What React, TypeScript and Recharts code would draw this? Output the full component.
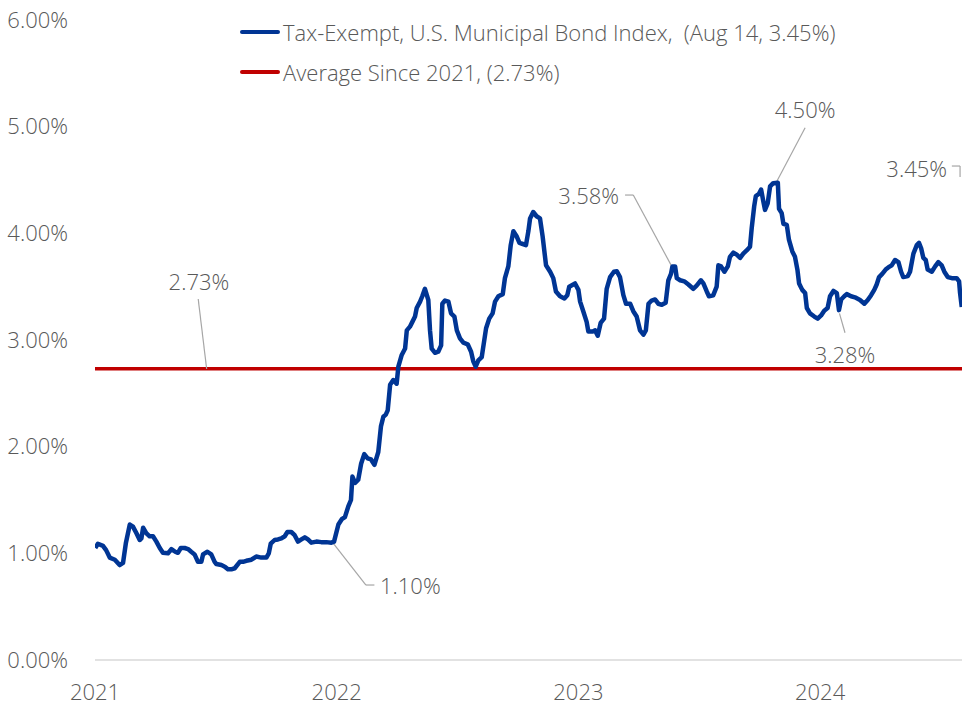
import React from 'react';
import { LineChart, Line, XAxis, YAxis, ReferenceLine, ReferenceDot, Legend } from 'recharts';

// decimal years
const dates = [
  2021.001, 2021.012, 2021.033, 2021.046, 2021.061, 2021.082, 2021.102, 2021.116, 2021.128, 2021.144,
  2021.157, 2021.171, 2021.185, 2021.192, 2021.199, 2021.212, 2021.226, 2021.240, 2021.254, 2021.268,
  2021.281, 2021.302, 2021.316, 2021.332, 2021.343, 2021.355, 2021.371, 2021.385, 2021.398, 2021.412,
  2021.426, 2021.440, 2021.447, 2021.465, 2021.481, 2021.495, 2021.502, 2021.523, 2021.537, 2021.550,
  2021.564, 2021.578, 2021.599, 2021.612, 2021.626, 2021.647, 2021.667, 2021.688, 2021.709, 2021.719,
  2021.727, 2021.743, 2021.757, 2021.771, 2021.785, 2021.796, 2021.812, 2021.826, 2021.840, 2021.854,
  2021.868, 2021.881, 2021.895, 2021.916, 2021.936, 2021.957, 2021.978, 2021.989,
  2022.007, 2022.021, 2022.034, 2022.048, 2022.059, 2022.065, 2022.076, 2022.089, 2022.101, 2022.114,
  2022.128, 2022.142, 2022.156, 2022.172, 2022.183, 2022.193, 2022.203, 2022.211, 2022.221, 2022.234,
  2022.248, 2022.255, 2022.269, 2022.283, 2022.290, 2022.303, 2022.313, 2022.324, 2022.331, 2022.345,
  2022.354, 2022.365, 2022.379, 2022.386, 2022.393, 2022.407, 2022.420, 2022.432, 2022.437, 2022.448,
  2022.462, 2022.473, 2022.487, 2022.497, 2022.510, 2022.524, 2022.542, 2022.556, 2022.565, 2022.575,
  2022.586, 2022.600, 2022.618, 2022.631, 2022.645, 2022.655, 2022.669, 2022.687, 2022.696, 2022.710,
  2022.720, 2022.731, 2022.745, 2022.756, 2022.770, 2022.783, 2022.793, 2022.800, 2022.813, 2022.827,
  2022.841, 2022.852, 2022.866, 2022.883, 2022.896, 2022.907, 2022.924, 2022.942, 2022.954, 2022.962,
  2022.986,
  2023.000, 2023.007, 2023.020, 2023.034, 2023.041, 2023.059, 2023.069, 2023.080, 2023.092, 2023.106,
  2023.117, 2023.131, 2023.147, 2023.159, 2023.172, 2023.186, 2023.197, 2023.214, 2023.227, 2023.241,
  2023.255, 2023.269, 2023.279, 2023.290, 2023.303, 2023.317, 2023.331, 2023.345, 2023.361, 2023.372,
  2023.383, 2023.389, 2023.400, 2023.407, 2023.421, 2023.438, 2023.455, 2023.475, 2023.489, 2023.507,
  2023.517, 2023.531, 2023.540, 2023.558, 2023.572, 2023.579, 2023.590, 2023.604, 2023.618, 2023.627,
  2023.641, 2023.655, 2023.669, 2023.682, 2023.696, 2023.710, 2023.717, 2023.727, 2023.734, 2023.747,
  2023.756, 2023.765, 2023.772, 2023.783, 2023.793, 2023.806, 2023.825, 2023.830, 2023.841, 2023.848,
  2023.862, 2023.871, 2023.885, 2023.896, 2023.906, 2023.913, 2023.926, 2023.938, 2023.945, 2023.958,
  2023.976, 2023.990,
  2024.004, 2024.017, 2024.031, 2024.041, 2024.055, 2024.069, 2024.078, 2024.087, 2024.100, 2024.110,
  2024.128, 2024.144, 2024.165, 2024.183, 2024.197, 2024.211, 2024.224, 2024.234, 2024.244, 2024.257,
  2024.271, 2024.282, 2024.296, 2024.310, 2024.324, 2024.335, 2024.344, 2024.363, 2024.372, 2024.386,
  2024.400, 2024.409, 2024.418, 2024.427, 2024.437, 2024.445, 2024.462, 2024.476, 2024.489, 2024.503,
  2024.514, 2024.528, 2024.545, 2024.565, 2024.575, 2024.579, 2024.586,
];

// yield, %
const yields = [
  1.05, 1.09, 1.07, 1.03, 0.96, 0.94, 0.89, 0.91, 1.10, 1.27,
  1.25, 1.19, 1.125, 1.14, 1.24, 1.19, 1.16, 1.16, 1.11, 1.05,
  1.005, 1.00, 1.04, 1.015, 1.005, 1.05, 1.05, 1.04, 1.015, 0.99,
  0.92, 0.92, 0.99, 1.015, 0.99, 0.92, 0.90, 0.89, 0.875, 0.85,
  0.85, 0.86, 0.92, 0.92, 0.93, 0.94, 0.97, 0.96, 0.96, 1.00,
  1.09, 1.125, 1.13, 1.14, 1.16, 1.20, 1.20, 1.17, 1.11, 1.13,
  1.15, 1.13, 1.10, 1.11, 1.105, 1.105, 1.10, 1.11,
  1.27, 1.32, 1.34, 1.44, 1.50, 1.72, 1.66, 1.69, 1.84, 1.93,
  1.89, 1.88, 1.83, 1.95, 2.19, 2.28, 2.30, 2.34, 2.58, 2.625,
  2.59, 2.75, 2.86, 2.92, 3.09, 3.125, 3.17, 3.22, 3.30, 3.36,
  3.41, 3.48, 3.375, 3.09, 2.92, 2.88, 2.89, 2.95, 3.34, 3.37,
  3.36, 3.25, 3.22, 3.09, 3.015, 2.975, 2.96, 2.89, 2.80, 2.75,
  2.81, 2.84, 3.11, 3.20, 3.25, 3.36, 3.41, 3.43, 3.58, 3.69,
  3.89, 4.02, 3.97, 3.91, 3.90, 3.89, 4.02, 4.14, 4.20, 4.16,
  4.14, 3.97, 3.70, 3.64, 3.58, 3.455, 3.41, 3.39, 3.42, 3.50,
  3.53,
  3.47, 3.36, 3.27, 3.17, 3.08, 3.08, 3.09, 3.04, 3.16, 3.20,
  3.48, 3.59, 3.64, 3.645, 3.59, 3.42, 3.34, 3.34, 3.27, 3.22,
  3.09, 3.05, 3.09, 3.34, 3.37, 3.38, 3.34, 3.33, 3.35, 3.56,
  3.62, 3.69, 3.69, 3.58, 3.56, 3.55, 3.52, 3.48, 3.51, 3.56,
  3.53, 3.455, 3.41, 3.42, 3.50, 3.70, 3.69, 3.64, 3.69, 3.78,
  3.82, 3.80, 3.77, 3.81, 3.84, 3.875, 4.05, 4.25, 4.35, 4.37,
  4.41, 4.30, 4.22, 4.28, 4.44, 4.47, 4.475, 4.23, 4.19, 4.09,
  4.08, 3.94, 3.83, 3.78, 3.66, 3.53, 3.47, 3.44, 3.30, 3.25,
  3.22, 3.20,
  3.23, 3.275, 3.30, 3.41, 3.46, 3.44, 3.28, 3.38, 3.41, 3.43,
  3.41, 3.40, 3.375, 3.34, 3.375, 3.42, 3.47, 3.52, 3.59, 3.62,
  3.66, 3.68, 3.70, 3.75, 3.73, 3.64, 3.59, 3.60, 3.64, 3.81,
  3.89, 3.91, 3.86, 3.77, 3.75, 3.66, 3.64, 3.69, 3.73, 3.70,
  3.64, 3.59, 3.58, 3.58, 3.55, 3.44, 3.31,
];

const averageSince2021 = 2.73;
const yTicks = [0, 1, 2, 3, 4, 5, 6];
const xTicks = [2021, 2022, 2023, 2024];
const legendLabels = [
  'Tax-Exempt, U.S. Municipal Bond Index,  (Aug 14, 3.45%)',
  'Average Since 2021, (2.73%)',
];
const seriesColors = ['#003594', '#C00000'];

type Ann = { text: string; x: number; y: number; anchor: 'start' | 'middle' | 'end'; leader: [number, number][] };
const annotations: Ann[] = [
  { text: '2.73%', x: 2021.430, y: 3.553, anchor: 'middle', leader: [[2021.427, 3.384], [2021.462, 2.728]] },
  { text: '1.10%', x: 2022.179, y: 0.703, anchor: 'start', leader: [[2021.986, 1.094], [2022.121, 0.703], [2022.156, 0.703]] },
  { text: '3.58%', x: 2023.168, y: 4.359, anchor: 'end', leader: [[2023.193, 4.359], [2023.227, 4.359], [2023.413, 3.578]] },
  { text: '4.50%', x: 2023.938, y: 5.166, anchor: 'middle', leader: [[2023.938, 4.99], [2023.820, 4.484]] },
  { text: '3.28%', x: 2024.103, y: 2.873, anchor: 'middle', leader: [[2024.080, 3.25], [2024.103, 3.068]] },
  { text: '3.45%', x: 2024.525, y: 4.617, anchor: 'end', leader: [[2024.545, 4.631], [2024.579, 4.631], [2024.579, 4.528]] },
];

const data = dates.map((t, i) => ({ t, y: yields[i] }));

const FONT = "'Open Sans', sans-serif";
const textColor = '#595959';
const textStyle: React.CSSProperties = { fontFamily: FONT, fontWeight: 300, fontSize: 22 };

const LegendContent = () => (
  <div style={{ fontFamily: FONT, fontWeight: 300, fontSize: 22, color: textColor }}>
    {legendLabels.map((l, i) => (
      <div key={l} style={{ display: 'flex', alignItems: 'center', height: 40, whiteSpace: 'pre' }}>
        <div style={{ width: 40, height: 4, background: seriesColors[i], borderRadius: 2, marginRight: 3 }} />
        <span>{l}</span>
      </div>
    ))}
  </div>
);

export default function App() {
  return (
    <div style={{ width: 962, height: 706, overflow: 'hidden' }}>
      <style>{'html,body{margin:0;padding:0;overflow:hidden;}'}</style>
      <LineChart width={962} height={706} data={data} margin={{ top: 20, right: 0, left: 0, bottom: 0 }}>
        <XAxis
          dataKey="t"
          type="number"
          domain={[2021, 2024.587]}
          ticks={xTicks}
          allowDataOverflow
          height={46}
          tickSize={0}
          tickMargin={24}
          axisLine={{ stroke: '#D9D9D9', strokeWidth: 1.5 }}
          tickLine={false}
          tick={{ fill: textColor, ...textStyle }}
          interval={0}
        />
        <YAxis
          type="number"
          domain={[0, 6]}
          ticks={yTicks}
          width={95}
          tickSize={0}
          tickMargin={27}
          axisLine={false}
          tickLine={false}
          tickFormatter={(v: number) => `${v.toFixed(2)}%`}
          tick={{ fill: textColor, ...textStyle }}
          interval={0}
        />
        <Legend
          layout="horizontal"
          verticalAlign="middle"
          align="center"
          content={LegendContent}
          wrapperStyle={{ top: 12, left: 240, width: 'auto', height: 'auto' }}
        />
        <ReferenceLine y={averageSince2021} stroke={seriesColors[1]} strokeWidth={3.5} ifOverflow="visible" />
        {annotations.map((a) =>
          a.leader.slice(1).map((p, j) => (
            <ReferenceLine
              key={`${a.text}-${j}`}
              segment={[
                { x: a.leader[j][0], y: a.leader[j][1] },
                { x: p[0], y: p[1] },
              ]}
              stroke="#A6A6A6"
              strokeWidth={1.2}
              ifOverflow="visible"
            />
          ))
        )}
        <Line
          type="linear"
          dataKey="y"
          stroke={seriesColors[0]}
          strokeWidth={4.5}
          dot={false}
          isAnimationActive={false}
          strokeLinejoin="round"
        />
        {annotations.map((a) => (
          <ReferenceDot
            key={`lbl-${a.text}`}
            x={a.x}
            y={a.y}
            r={1}
            ifOverflow="visible"
            shape={(p: any) => (
              <text x={p.cx} y={p.cy} textAnchor={a.anchor} dominantBaseline="central" fill={textColor} style={textStyle}>
                {a.text}
              </text>
            )}
          />
        ))}
      </LineChart>
    </div>
  );
}
